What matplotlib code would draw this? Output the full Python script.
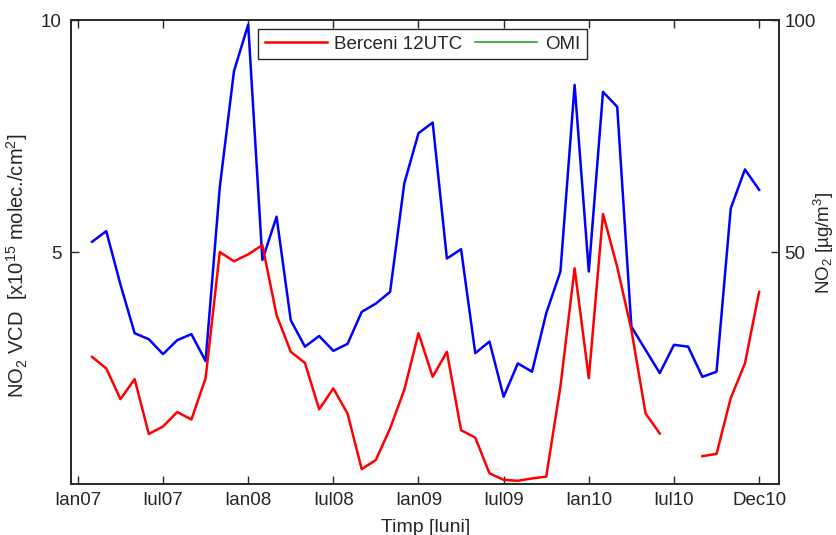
import numpy as np
from matplotlib import pyplot as plt
from matplotlib.lines import Line2D

# month index counted from Jan 2007 (0 = Ian07, 48 = Dec10)
months = list(range(1, 49))

omi_vcd = [
    5.22, 5.45, 4.30, 3.25, 3.12, 2.80, 3.10, 3.23, 2.65, 6.40, 8.90, 9.90,
    4.83, 5.76, 3.53, 2.96, 3.19, 2.87, 3.02, 3.71, 3.89, 4.14, 6.48, 7.56,
    7.79, 4.86, 5.06, 2.82, 3.07, 1.88, 2.60, 2.42, 3.68, 4.58, 8.60, 4.58,
    8.45, 8.13, 3.39, 2.89, 2.39, 3.00, 2.96, 2.31, 2.42, 5.94, 6.78, 6.34,
]

berceni_12utc = [
    27.4, 24.9, 18.3, 22.6, 10.8, 12.4, 15.5, 13.9, 22.8, 50.0, 48.0, 49.5,
    51.5, 36.4, 28.5, 26.1, 16.1, 20.6, 15.2, 3.2, 5.2, 12.0, 20.3, 32.5,
    23.1, 28.5, 11.6, 10.0, 2.3, 0.9, 0.7, 1.2, 1.6, 21.0, 46.5, 22.8,
    58.2, 46.8, 33.2, 15.2, 10.9, np.nan, np.nan, 6.0, 6.5, 18.5, 26.0, 41.4,
]

tick_months = [0, 6, 12, 18, 24, 30, 36, 42, 48]
tick_labels = ["Ian07", "Iul07", "Ian08", "Iul08", "Ian09", "Iul09", "Ian10", "Iul10", "Dec10"]

INK = "#262626"


def main() -> None:
    plt.rcParams["font.family"] = ["Liberation Sans", "DejaVu Sans"]
    plt.rcParams["font.size"] = 13.5
    plt.rcParams["mathtext.fontset"] = "custom"
    plt.rcParams["mathtext.rm"] = "Liberation Sans"
    plt.rcParams["mathtext.default"] = "regular"
    plt.rcParams["text.color"] = INK
    plt.rcParams["axes.labelcolor"] = INK

    fig = plt.figure(figsize=(8.37, 5.35), dpi=100)
    ax0 = fig.add_axes([0.0854, 0.0953, 0.8453, 0.8673])
    ax1 = ax0.twinx()

    ax0.plot(months, omi_vcd, color="#0000ff", linewidth=1.8)
    ax1.plot(months, berceni_12utc, color="#ff0000", linewidth=1.8)

    ax0.set_xlim(-0.45, 49.4)
    ax0.set_ylim(0, 10)
    ax1.set_ylim(0, 100)
    ax0.set_xticks(tick_months)
    ax0.set_xticklabels(tick_labels)
    ax0.set_yticks([5, 10])
    ax1.set_yticks([50, 100])

    ax0.tick_params(axis="x", direction="in", top=True, length=6, width=1, color=INK,
                    labelcolor=INK, pad=6)
    ax0.tick_params(axis="y", direction="in", length=6, width=1, color=INK,
                    labelcolor=INK, pad=7)
    ax1.tick_params(axis="y", direction="in", length=6, width=1, color=INK,
                    labelcolor=INK, pad=4)
    for ax in (ax0, ax1):
        for spine in ax.spines.values():
            spine.set_color(INK)
            spine.set_linewidth(1.2)

    ax0.set_xlabel("Timp [luni]", fontsize=14, labelpad=7)
    ax0.set_ylabel("NO$_2$ VCD  [x10$^{15}$ molec./cm$^2$]", fontsize=14.5)
    ax0.yaxis.set_label_coords(-0.058, 0.47)
    ax1.set_ylabel("NO$_2$ [µg/m$^3$]", fontsize=13.5)
    ax1.yaxis.set_label_coords(1.046, 0.52)

    handles = [
        Line2D([], [], color="#ff0000", linewidth=1.8),
        Line2D([], [], color="#2ca02c", linewidth=1.2),
    ]
    leg = ax1.legend(handles, ["Berceni 12UTC", "OMI"], ncol=2, loc="upper center",
                     bbox_to_anchor=(0.496, 0.981), borderaxespad=0, fancybox=False,
                     handlelength=3.3, handletextpad=0.4, columnspacing=0.7,
                     borderpad=0.35, framealpha=1)
    leg.get_frame().set_edgecolor(INK)
    leg.get_frame().set_linewidth(1.0)

    fig.savefig("out.png", dpi=100)


if __name__ == "__main__":
    main()
